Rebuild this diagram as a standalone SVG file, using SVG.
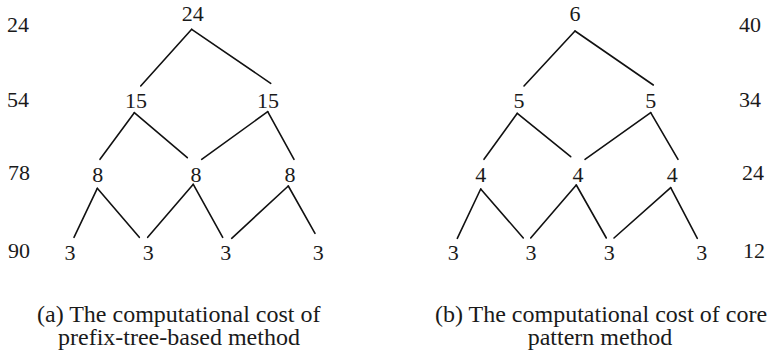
<svg xmlns="http://www.w3.org/2000/svg" width="767" height="356" viewBox="0 0 767 356">
<style>
.n{font-family:"Liberation Serif","Times New Roman",serif;font-size:22px;fill:#1a1a1a;text-anchor:middle}
.lab{font-family:"Liberation Serif","Times New Roman",serif;font-size:22px;fill:#1a1a1a}
.cap{font-family:"Liberation Serif","Times New Roman",serif;font-size:24px;fill:#1a1a1a}
.e{stroke:#111;stroke-width:1.6;fill:none;stroke-linecap:round}
</style>
<rect width="767" height="356" fill="#fff"/>
<g id="connectors">
<g id="edges-a" class="e">
<line x1="191.7" y1="29.3" x2="140.7" y2="86"/>
<line x1="191.7" y1="29.3" x2="270.7" y2="83.3"/>
<line x1="134.3" y1="112.7" x2="100" y2="159.3"/>
<line x1="134.3" y1="112.7" x2="187.3" y2="157.7"/>
<line x1="267.7" y1="111.7" x2="201.7" y2="159.3"/>
<line x1="267.7" y1="111.7" x2="294" y2="159.3"/>
<line x1="97.3" y1="188.3" x2="74" y2="237.3"/>
<line x1="97.3" y1="188.3" x2="139.3" y2="237.3"/>
<line x1="193.3" y1="184.3" x2="147.7" y2="237.3"/>
<line x1="193.3" y1="184.3" x2="222.7" y2="237.3"/>
<line x1="288.3" y1="186" x2="231.7" y2="238.3"/>
<line x1="288.3" y1="186" x2="315" y2="233.3"/>
</g>
<g id="edges-b" class="e">
<line x1="575" y1="31" x2="524" y2="86"/>
<line x1="575" y1="31" x2="653.3" y2="85"/>
<line x1="517.3" y1="113.3" x2="484" y2="159.3"/>
<line x1="517.3" y1="113.3" x2="570.7" y2="156.7"/>
<line x1="650.7" y1="112.7" x2="585" y2="159.3"/>
<line x1="650.7" y1="112.7" x2="678" y2="159.3"/>
<line x1="480.7" y1="189" x2="457.3" y2="238.3"/>
<line x1="480.7" y1="189" x2="523.3" y2="238"/>
<line x1="576.3" y1="185" x2="530.7" y2="238"/>
<line x1="576.3" y1="185" x2="606.3" y2="238"/>
<line x1="670.7" y1="187.7" x2="614" y2="238"/>
<line x1="670.7" y1="187.7" x2="697.3" y2="238.3"/>
</g>
</g>
<g id="tree-a">
<g id="a-r1"><text class="n" x="192.8" y="21">24</text></g>
<g id="a-r2a"><text class="n" x="136" y="108">15</text></g>
<g id="a-r2b"><text class="n" x="268" y="108">15</text></g>
<g id="a-r3a"><text class="n" x="97.7" y="182">8</text></g>
<g id="a-r3b"><text class="n" x="196" y="182">8</text></g>
<g id="a-r3c"><text class="n" x="290" y="182">8</text></g>
<g id="a-r4a"><text class="n" x="70" y="260">3</text></g>
<g id="a-r4b"><text class="n" x="148.3" y="260">3</text></g>
<g id="a-r4c"><text class="n" x="225.7" y="260">3</text></g>
<g id="a-r4d"><text class="n" x="318.3" y="260">3</text></g>
</g>
<g id="labels-a">
<text class="lab" x="7" y="31.5">24</text>
<text class="lab" x="7" y="106.7">54</text>
<text class="lab" x="8" y="180">78</text>
<text class="lab" x="8" y="258.3">90</text>
</g>
<g id="tree-b">
<g id="b-r1"><text class="n" x="575" y="21">6</text></g>
<g id="b-r2a"><text class="n" x="519" y="108">5</text></g>
<g id="b-r2b"><text class="n" x="650.7" y="108">5</text></g>
<g id="b-r3a"><text class="n" x="480.7" y="182">4</text></g>
<g id="b-r3b"><text class="n" x="578" y="182">4</text></g>
<g id="b-r3c"><text class="n" x="672.3" y="182">4</text></g>
<g id="b-r4a"><text class="n" x="453.3" y="260">3</text></g>
<g id="b-r4b"><text class="n" x="531" y="260">3</text></g>
<g id="b-r4c"><text class="n" x="609.3" y="260">3</text></g>
<g id="b-r4d"><text class="n" x="701.7" y="260">3</text></g>
</g>
<g id="labels-b">
<text class="lab" x="739" y="31.5">40</text>
<text class="lab" x="739" y="106.7">34</text>
<text class="lab" x="742" y="180">24</text>
<text class="lab" x="743" y="257.7">12</text>
</g>
<g id="captions">
<text class="cap" x="37" y="321.7">(a) The computational cost of</text>
<text class="cap" x="58" y="345">prefix-tree-based method</text>
<text class="cap" x="435" y="321.7">(b) The computational cost of core</text>
<text class="cap" x="600" y="345" text-anchor="middle">pattern method</text>
</g>
</svg>
